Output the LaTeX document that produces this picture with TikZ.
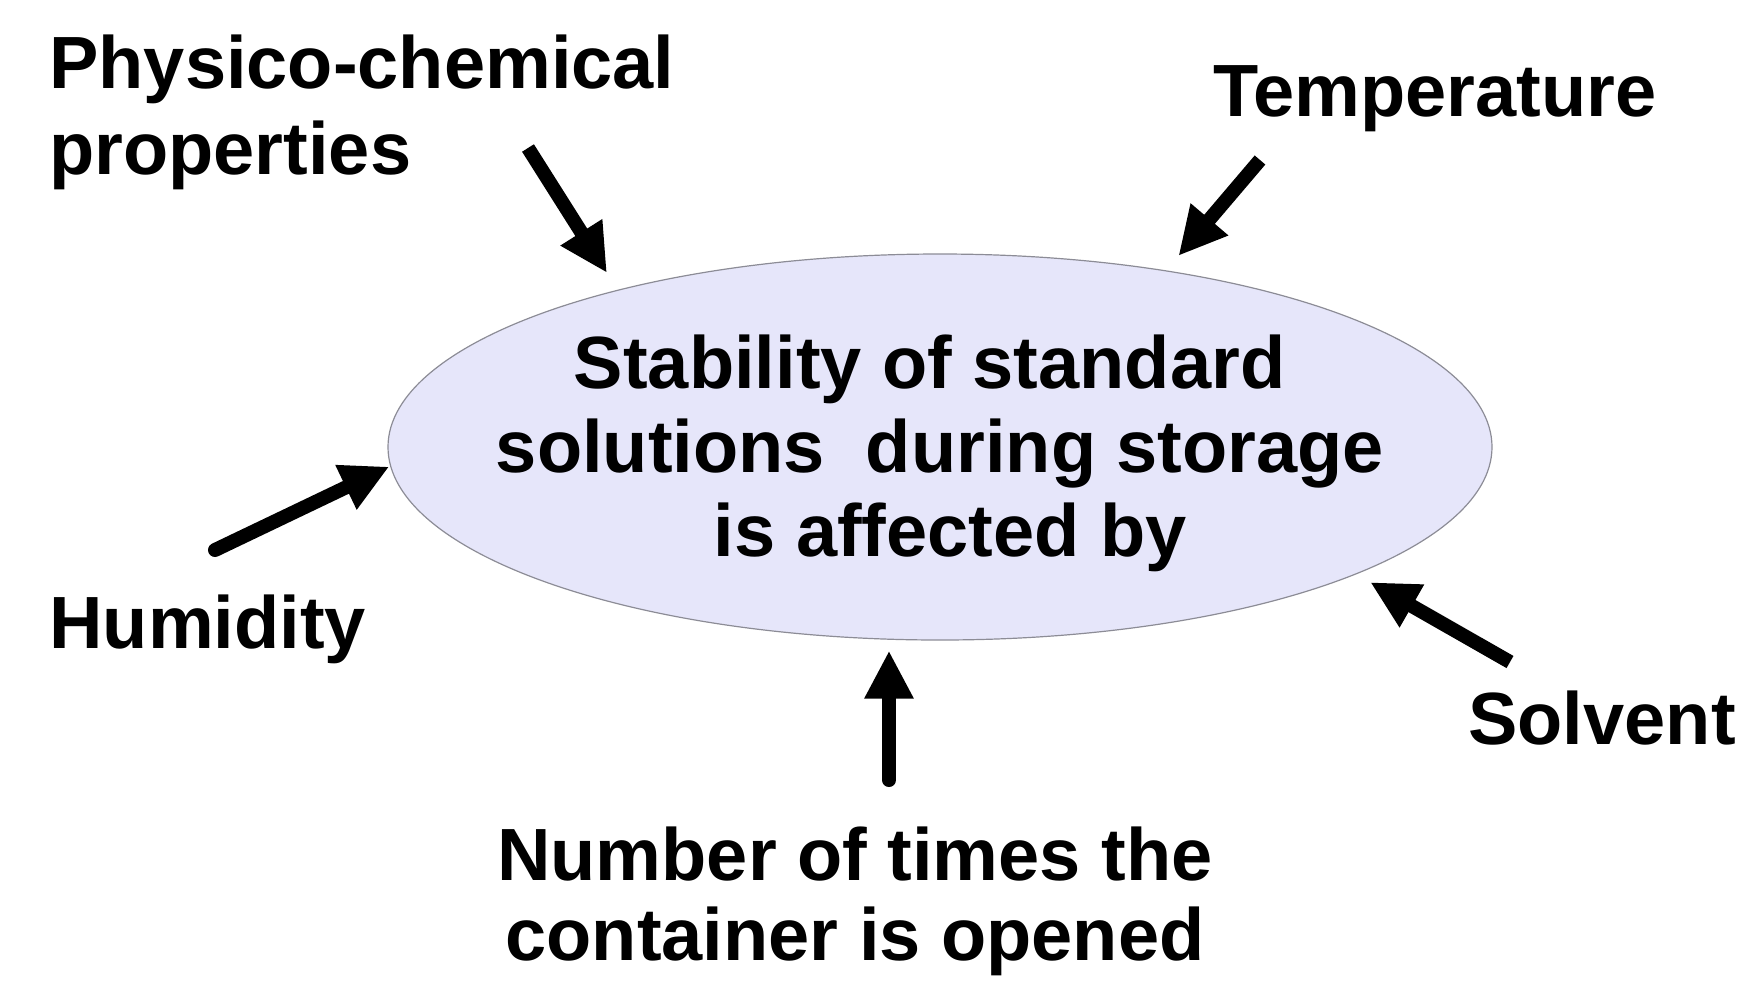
\documentclass[tikz,border=0pt]{standalone}
\usepackage{fontspec}
\setmainfont{Liberation Sans}
\usetikzlibrary{arrows.meta,shapes.geometric}
\definecolor{ellfill}{RGB}{230,230,250}
\definecolor{ellline}{RGB}{140,140,150}
\begin{document}
\begin{tikzpicture}[x=0.5pt,y=-0.5pt,
  factor/.style={font=\bfseries\fontsize{37}{43}\selectfont, inner sep=0pt},
  push/.style={line width=7pt, -{Triangle[length=24pt,width=23pt]}},
]
\useasboundingbox (0,0) rectangle (1737,982);

% central ellipse
\node[ellipse, draw=ellline, fill=ellfill, line width=0.6pt,
      minimum width=552pt, minimum height=193pt, inner sep=0pt] (ell) at (940,447) {};
\node[factor, align=center, font=\bfseries\fontsize{37}{42}\selectfont, anchor=base]
  (core) at (940,556)
  {Stability of standard\kern0.28em\\ solutions\kern0.556em during storage\\ \kern0.28em is affected by};

% influencing factors
\node[factor, align=left, anchor=base west] (phys) at (49,174) {Physico-chemical\\properties};
\node[factor, anchor=base west] (temp) at (1213,116) {Temperature};
\node[factor, anchor=base west] (hum) at (49,648) {Humidity};
\node[factor, anchor=base west] (solv) at (1468,744) {Solvent};
\node[factor, align=center, font=\bfseries\fontsize{37}{40}\selectfont, anchor=base]
  (num) at (855,960) {Number of times the\\container is opened};

% arrow tails
\coordinate (tphys) at (528,148);
\coordinate (ttemp) at (1260,160);
\coordinate (thum) at (215,550);
\coordinate (tsolv) at (1510,662);
\coordinate (tnum) at (889,780);

% arrows onto the ellipse
\draw[push, shorten >=10pt] (tphys) -- (ell.154.3);
\draw[push, shorten >=9.5pt] (ttemp) -- (ell.38.8);
\draw[push, line cap=round, shorten >=0.5pt] (thum) -- (ell.182.6);
\draw[push, shorten >=8pt] (tsolv) -- (ell.-17.2);
\draw[push, line cap=round, shorten >=5pt] (tnum) -- (tnum |- ell.south);
\end{tikzpicture}
\end{document}
